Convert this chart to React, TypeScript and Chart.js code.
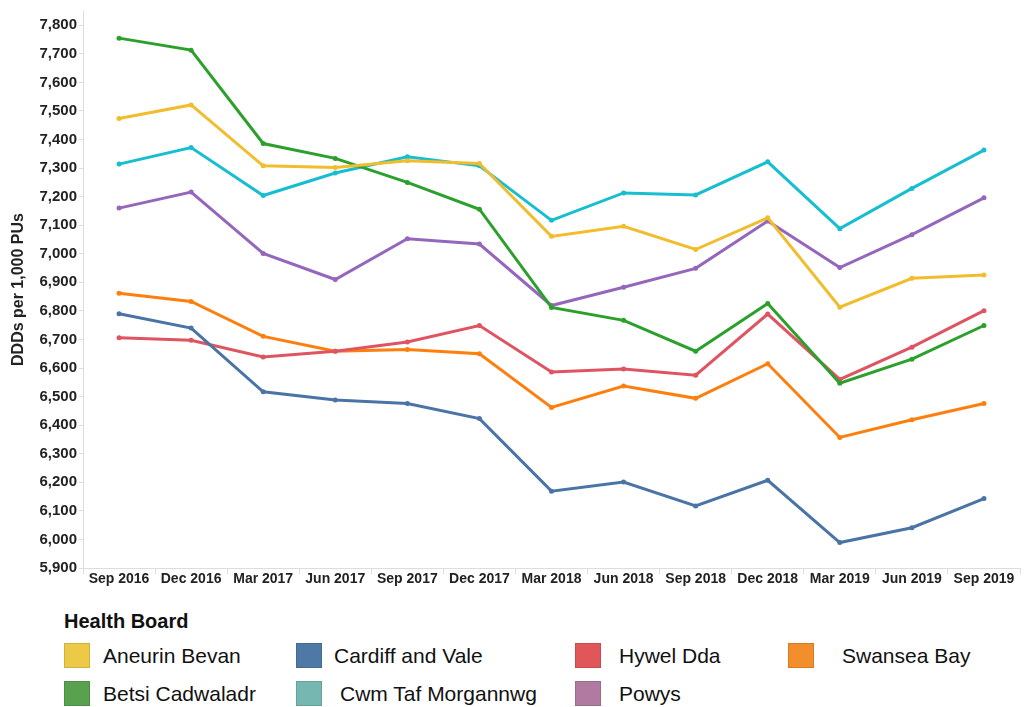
import React, { useEffect, useRef } from "react";
import { Chart, registerables } from "chart.js";

Chart.register(...registerables);

const quarters = [
  "Sep 2016", "Dec 2016", "Mar 2017", "Jun 2017", "Sep 2017", "Dec 2017", "Mar 2018",
  "Jun 2018", "Sep 2018", "Dec 2018", "Mar 2019", "Jun 2019", "Sep 2019",
];

const aneurinBevan = [7474, 7521, 7308, 7302, 7326, 7316, 7061, 7096, 7015, 7126, 6813, 6914, 6926];
const betsiCadwaladr = [7755, 7713, 7386, 7334, 7250, 7156, 6812, 6767, 6659, 6826, 6547, 6631, 6749];
const cardiffAndVale = [6790, 6740, 6517, 6488, 6476, 6423, 6169, 6201, 6117, 6207, 5989, 6041, 6143];
const cwmTafMorgannwg = [7314, 7372, 7204, 7283, 7340, 7308, 7117, 7213, 7206, 7322, 7088, 7229, 7363];
const hywelDda = [6706, 6697, 6639, 6659, 6691, 6749, 6586, 6597, 6575, 6789, 6560, 6673, 6801];
const powys = [7160, 7216, 7001, 6910, 7053, 7034, 6819, 6883, 6949, 7115, 6952, 7067, 7196];
const swanseaBay = [6862, 6833, 6711, 6659, 6665, 6650, 6462, 6537, 6494, 6615, 6357, 6419, 6476];

const yTicks = [
  5900, 6000, 6100, 6200, 6300, 6400, 6500, 6600, 6700, 6800,
  6900, 7000, 7100, 7200, 7300, 7400, 7500, 7600, 7700, 7800,
];

const yTitle = "DDDs per 1,000 PUs";
const legendTitle = "Health Board";

const FONT = "'Liberation Sans', Arial, Helvetica, sans-serif";

const series = [
  { name: "Aneurin Bevan", data: aneurinBevan, line: "#f1bd2c", swatch: "#edc948" },
  { name: "Betsi Cadwaladr", data: betsiCadwaladr, line: "#2ca02c", swatch: "#59a14f" },
  { name: "Cardiff and Vale", data: cardiffAndVale, line: "#4a74a5", swatch: "#4e79a7" },
  { name: "Cwm Taf Morgannwg", data: cwmTafMorgannwg, line: "#17becf", swatch: "#76b7b2" },
  { name: "Hywel Dda", data: hywelDda, line: "#df5461", swatch: "#e15759" },
  { name: "Powys", data: powys, line: "#9467bd", swatch: "#b07aa1" },
  { name: "Swansea Bay", data: swanseaBay, line: "#ff7f0e", swatch: "#f28e2b" },
];

// legend placement (column-major like the reference)
const legendPos: Record<string, { box: [number, number]; text: number }> = {
  "Aneurin Bevan": { box: [64, 643], text: 103 },
  "Betsi Cadwaladr": { box: [64, 681], text: 103 },
  "Cardiff and Vale": { box: [296, 643], text: 334 },
  "Cwm Taf Morgannwg": { box: [296, 681], text: 340 },
  "Hywel Dda": { box: [575, 643], text: 619 },
  "Powys": { box: [575, 681], text: 619 },
  "Swansea Bay": { box: [788, 643], text: 842 },
};

export default function App() {
  const canvasRef = useRef<HTMLCanvasElement | null>(null);

  useEffect(() => {
    const canvas = canvasRef.current;
    if (!canvas) return;
    const chart = new Chart(canvas, {
      type: "line",
      data: {
        labels: quarters,
        datasets: series.map((s) => ({
          label: s.name,
          data: s.data,
          borderColor: s.line,
          backgroundColor: s.line,
          borderWidth: 3,
          pointRadius: 2.5,
          pointBorderWidth: 0,
          pointBackgroundColor: s.line,
          tension: 0,
          fill: false,
        })),
      },
      options: {
        responsive: false,
        animation: false,
        maintainAspectRatio: false,
        layout: { padding: { top: 8, right: 2, left: 0, bottom: 0 } },
        plugins: {
          legend: { display: false },
          tooltip: { enabled: false },
        },
        scales: {
          x: {
            type: "category",
            offset: true,
            grid: {
              display: true,
              drawOnChartArea: false,
              drawTicks: true,
              tickLength: 6,
              color: "#dddddd",
              offset: true,
            },
            border: { display: true, color: "#dddddd" },
            ticks: {
              color: "#222222",
              font: { family: FONT, size: 14, weight: "bold" },
              padding: -3,
              maxRotation: 0,
              autoSkip: false,
            },
            afterFit: (scale: any) => {
              scale.height = 32;
            },
          },
          y: {
            type: "linear",
            min: 5900,
            max: 7850,
            afterBuildTicks: (scale: any) => {
              scale.ticks = yTicks.map((v) => ({ value: v }));
            },
            grid: {
              display: true,
              drawOnChartArea: false,
              drawTicks: true,
              tickLength: 4,
              color: "#dddddd",
            },
            border: { display: true, color: "#dddddd" },
            ticks: {
              color: "#222222",
              font: { family: FONT, size: 15, weight: "bold" },
              padding: 2,
              callback: (v: any) => Number(v).toLocaleString("en-US"),
            },
            title: {
              display: true,
              text: yTitle,
              color: "#222222",
              font: { family: FONT, size: 16, weight: "bold" },
              padding: { top: 9, bottom: 0 },
            },
            afterFit: (scale: any) => {
              scale.width = 83;
            },
          },
        },
      },
    } as any);
    return () => chart.destroy();
  }, []);

  return (
    <div style={{ position: "absolute", left: 0, top: 0, width: 1024, height: 707, background: "#fff", fontFamily: FONT }}>
      <canvas ref={canvasRef} width={1024} height={600} style={{ position: "absolute", left: 0, top: 0, width: 1024, height: 600 }} />
      <div style={{ position: "absolute", left: 64, top: 609, fontSize: 20, fontWeight: "bold", color: "#111", lineHeight: "24px" }}>
        {legendTitle}
      </div>
      {series.map((s) => {
        const p = legendPos[s.name];
        return (
          <React.Fragment key={s.name}>
            <div
              style={{
                position: "absolute",
                left: p.box[0],
                top: p.box[1],
                width: 26,
                height: 25,
                background: s.swatch,
                boxSizing: "border-box",
                border: "1px solid rgba(0,0,0,0.12)",
              }}
            />
            <div
              style={{
                position: "absolute",
                left: p.text,
                top: p.box[1],
                height: 25,
                lineHeight: "25px",
                fontSize: 21,
                color: "#111",
                whiteSpace: "nowrap",
              }}
            >
              {s.name}
            </div>
          </React.Fragment>
        );
      })}
    </div>
  );
}
